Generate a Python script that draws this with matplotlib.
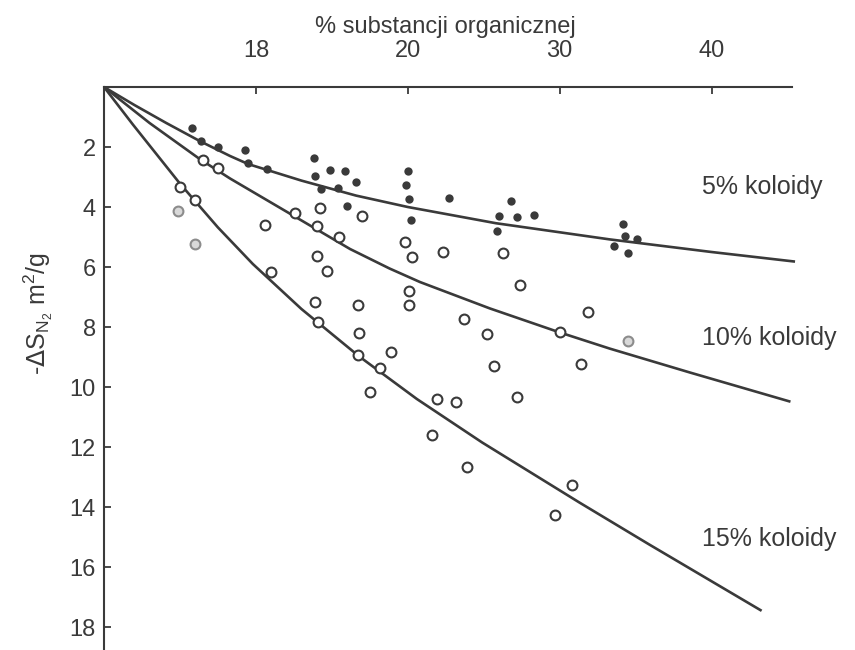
import matplotlib.pyplot as plt


# =====================================================
# DATA
# x is measured in tick steps: 0 = origin, 1..4 = ticks 18 / 20 / 30 / 40
# =====================================================

x_ticks = [1, 2, 3, 4]
x_tick_labels = ["18", "20", "30", "40"]
y_ticks = [2, 4, 6, 8, 10, 12, 14, 16, 18]

# 5% koloidy - filled points
filled_x = [0.58, 0.64, 0.75, 0.93, 0.95, 1.07, 1.38, 1.39, 1.49, 1.59,
            1.66, 1.43, 1.54, 1.60, 2.00, 1.99, 2.01, 2.27, 2.02, 2.68,
            2.60, 2.72, 2.83, 2.59, 3.42, 3.43, 3.51, 3.36, 3.45]
filled_y = [1.38, 1.79, 2.01, 2.09, 2.54, 2.74, 2.38, 2.96, 2.77, 2.80,
            3.18, 3.41, 3.36, 3.96, 2.79, 3.27, 3.74, 3.71, 4.43, 3.80,
            4.29, 4.33, 4.28, 4.80, 4.56, 4.96, 5.07, 5.29, 5.53]

# 10% / 15% koloidy - open points
open_x = [0.50, 0.65, 0.75, 0.60, 1.06, 1.26, 1.42, 1.40, 1.55, 1.40,
          1.47, 1.10, 1.70, 1.39, 1.41, 1.67, 1.68, 1.67, 1.75, 1.82,
          1.89, 1.98, 2.03, 2.01, 2.01, 2.23, 2.37, 2.52, 2.57, 2.63,
          2.72, 2.74, 2.19, 2.32, 2.16, 2.39, 3.00, 3.19, 3.14, 3.08,
          2.97]
open_y = [3.34, 2.44, 2.69, 3.77, 4.60, 4.20, 4.02, 4.64, 5.01, 5.63,
          6.14, 6.18, 4.31, 7.18, 7.82, 7.27, 8.21, 8.93, 10.16, 9.38,
          8.82, 5.17, 5.68, 6.80, 7.27, 5.49, 7.73, 8.24, 9.29, 5.53,
          10.32, 6.60, 10.40, 10.50, 11.60, 12.65, 8.16, 7.51, 9.22, 13.28,
          14.26]

# faded open points
faded_x = [0.49, 0.60, 3.45]
faded_y = [4.13, 5.23, 8.45]

# fitted curves
curve5_x = [0, 0.20, 0.41, 0.63, 0.83, 0.95, 1.30, 1.66, 2.00, 2.58,
            3.33, 4.00, 4.55]
curve5_y = [0, 0.60, 1.20, 1.80, 2.30, 2.57, 3.12, 3.62, 4.00, 4.54,
            5.08, 5.50, 5.82]

curve10_x = [0, 0.30, 0.63, 0.83, 1.20, 1.62, 1.88, 2.08, 2.54, 3.00,
             3.33, 3.86, 4.52]
curve10_y = [0, 1.20, 2.40, 3.05, 4.15, 5.40, 6.05, 6.50, 7.38, 8.18,
             8.72, 9.52, 10.49]

curve15_x = [0, 0.19, 0.50, 0.75, 0.98, 1.30, 1.68, 2.06, 2.49, 3.13,
             3.59, 4.33]
curve15_y = [0, 1.25, 3.22, 4.68, 5.90, 7.40, 8.98, 10.40, 11.85, 13.85,
             15.25, 17.46]

curve_labels = ["5% koloidy", "10% koloidy", "15% koloidy"]
label_y = [3.33, 8.37, 15.07]


# =====================================================
# FIGURE
# =====================================================

plt.rcParams["font.family"] = ["Liberation Sans", "DejaVu Sans"]

INK = "#3a3a3a"

fig = plt.figure(figsize=(8.55, 6.5), dpi=100)

ax = fig.add_axes([104 / 855, 0, 688 / 855, 563 / 650])

ax.set_xlim(0, 4.53)
ax.set_ylim(563 / 30, 0)

for cx, cy in [(curve5_x, curve5_y),
               (curve10_x, curve10_y),
               (curve15_x, curve15_y)]:
    ax.plot(cx, cy, color=INK, lw=1.9, clip_on=False,
            solid_capstyle="butt", solid_joinstyle="round")

ax.scatter(filled_x, filled_y, s=36, color=INK, zorder=3, lw=0)

ax.scatter(open_x, open_y, s=50, facecolor="white",
           edgecolor=INK, lw=1.5, zorder=3)

ax.scatter(faded_x, faded_y, s=50, facecolor="#d9d9d9",
           edgecolor="#8c8c8c", lw=1.5, zorder=3)

for text, ty in zip(curve_labels, label_y):
    ax.text(3.94, ty, text, fontsize=18, color=INK,
            ha="left", va="center", clip_on=False)

# -----------------------------
# AXES
# -----------------------------
for side in ["right", "bottom"]:
    ax.spines[side].set_visible(False)

for side in ["top", "left"]:
    ax.spines[side].set_color(INK)
    ax.spines[side].set_linewidth(1.5)

ax.xaxis.tick_top()
ax.set_xticks(x_ticks)
ax.set_xticklabels(x_tick_labels)
ax.set_yticks(y_ticks)

ax.tick_params(axis="both", direction="in", length=5, width=1.3,
               color=INK, labelcolor=INK, labelsize=17)
ax.tick_params(axis="x", pad=18)
ax.tick_params(axis="y", pad=6)

fig.text(445 / 855, 1 - 27 / 650, "% substancji organicznej",
         fontsize=17, color=INK, ha="center", va="center")

fig.text(38 / 855, 1 - 314 / 650,
         r"-$\Delta$S$_{\mathregular{N_2}}$ m$^{\mathregular{2}}$/g",
         fontsize=18, color=INK, ha="center", va="center", rotation=90)

fig.savefig("out.png", dpi=100, facecolor="white")
